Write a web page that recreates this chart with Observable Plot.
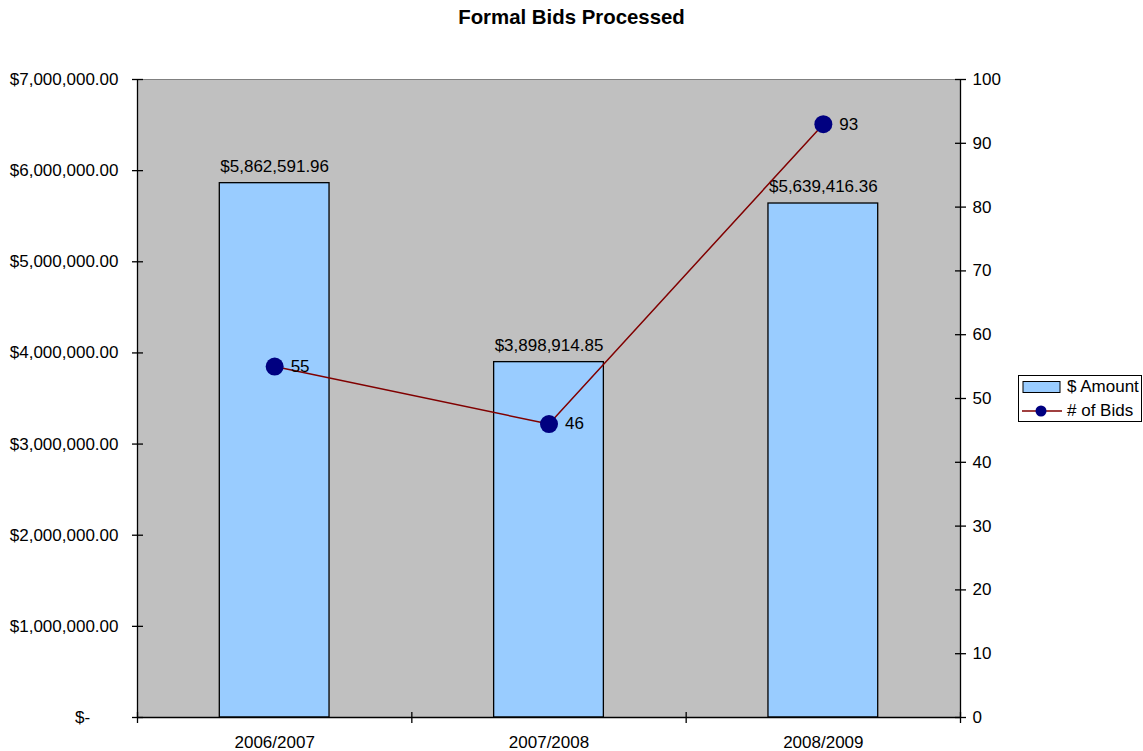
<!DOCTYPE html>
<html>
<head>
<meta charset="utf-8">
<script src="https://cdn.jsdelivr.net/npm/d3@7"></script>
<script src="https://cdn.jsdelivr.net/npm/@observablehq/plot@0.6"></script>
<style>
  html, body { margin: 0; padding: 0; background: #fff; }
  #wrap { position: relative; width: 1143px; height: 751px; font-family: "Liberation Sans", Arial, sans-serif; }
  #title { position: absolute; left: 0; top: 6px; width: 1143px; text-align: center; font-weight: bold; font-size: 20.4px; color: #000; }
  #legend { position: absolute; left: 1018px; top: 375px; width: 124px; height: 47px; border: 1px solid #000; background: #fff; box-sizing: border-box; font-size: 17px; }
  .row { position: absolute; left: 3px; height: 22px; display: flex; align-items: center; white-space: nowrap; }
  .row svg { margin-right: 5px; }
</style>
</head>
<body>
<div id="wrap">
  <div id="chart"></div>
  <div id="title">Formal Bids Processed</div>
  <div id="legend">
    <div class="row" style="top:0px"><svg width="40" height="14"><rect x="1" y="1.5" width="37" height="11" fill="#99ccff" stroke="#000" stroke-width="1"/></svg>$ Amount</div>
    <div class="row" style="top:24px"><svg width="40" height="14"><line x1="0" y1="7" x2="40" y2="7" stroke="#800000" stroke-width="1.5"/><circle cx="19" cy="7" r="5.5" fill="#000080"/></svg># of Bids</div>
  </div>
</div>
<script>
const categories = ["2006/2007", "2007/2008", "2008/2009"];
const amounts = [5862591.96, 3898914.85, 5639416.36];
const bids = [55, 46, 93];
const leftTicks = [0, 1000000, 2000000, 3000000, 4000000, 5000000, 6000000, 7000000];
const rightTicks = [0, 10, 20, 30, 40, 50, 60, 70, 80, 90, 100];

const yMax = 7000000;
const bidsMax = 100;
const k = yMax / bidsMax; // maps bids onto the dollar scale (secondary axis)

const data = categories.map((c, i) => ({ i, category: c, amount: amounts[i], bids: bids[i] }));
const boundaries = d3.range(categories.length + 1);

const money = d3.format("$,.2f");
const vline = { draw(ctx) { ctx.moveTo(0, -5.5); ctx.lineTo(0, 5.5); } };
const hline = { draw(ctx) { ctx.moveTo(-5.5, 0); ctx.lineTo(5.5, 0); } };

const chart = Plot.plot({
  width: 1143,
  height: 751,
  marginLeft: 137,
  marginRight: 183,
  marginTop: 79,
  marginBottom: 34,
  style: { fontFamily: "'Liberation Sans', Arial, sans-serif", fontSize: "17px", color: "#000", background: "transparent" },
  x: { type: "linear", domain: [0, categories.length] },
  y: { domain: [0, yMax] },
  marks: [
    Plot.frame({ fill: "#c0c0c0", stroke: "#808080" }),
    Plot.rectY(data, { x1: d => d.i + 0.3, x2: d => d.i + 0.7, y1: 0, y2: "amount", fill: "#99ccff", stroke: "#000", strokeWidth: 1.3 }),
    Plot.ruleX([0, categories.length], { stroke: "#000", strokeWidth: 1.3 }),
    Plot.ruleY([0], { stroke: "#000", strokeWidth: 1.3 }),
    Plot.dot(boundaries, { x: d => d, y: 0, symbol: vline, stroke: "#000", strokeWidth: 1.3, r: 5 }),
    Plot.dot(leftTicks, { x: 0, y: d => d, symbol: hline, stroke: "#000", strokeWidth: 1.3, r: 5 }),
    Plot.dot(rightTicks, { x: categories.length, y: d => d * k, symbol: hline, stroke: "#000", strokeWidth: 1.3, r: 5 }),
    Plot.axisY({ anchor: "left", ticks: leftTicks, tickSize: 0, tickPadding: 19, label: null,
      tickFormat: d => d === 0 ? "$-\u2007\u2007\u2007" : money(d) }),
    Plot.axisY({ anchor: "right", ticks: rightTicks.map(d => d * k), tickSize: 0, tickPadding: 12, label: null,
      tickFormat: d => String(Math.round(d / k)) }),
    Plot.axisX({ ticks: data.map(d => d.i + 0.5), tickSize: 0, tickPadding: 18, label: null,
      tickFormat: v => categories[Math.floor(v)] }),
    Plot.text(data, { x: d => d.i + 0.5, y: "amount", text: d => money(d.amount), dy: -17, fill: "#000" }),
    Plot.line(data, { x: d => d.i + 0.5, y: d => d.bids * k, stroke: "#800000", strokeWidth: 1.5 }),
    Plot.dot(data, { x: d => d.i + 0.5, y: d => d.bids * k, r: 9, fill: "#000080" }),
    Plot.text(data, { x: d => d.i + 0.5, y: d => d.bids * k, text: d => String(d.bids), dx: 16, dy: 0, textAnchor: "start", fill: "#000" })
  ]
});
document.getElementById("chart").appendChild(chart);
</script>
</body>
</html>
